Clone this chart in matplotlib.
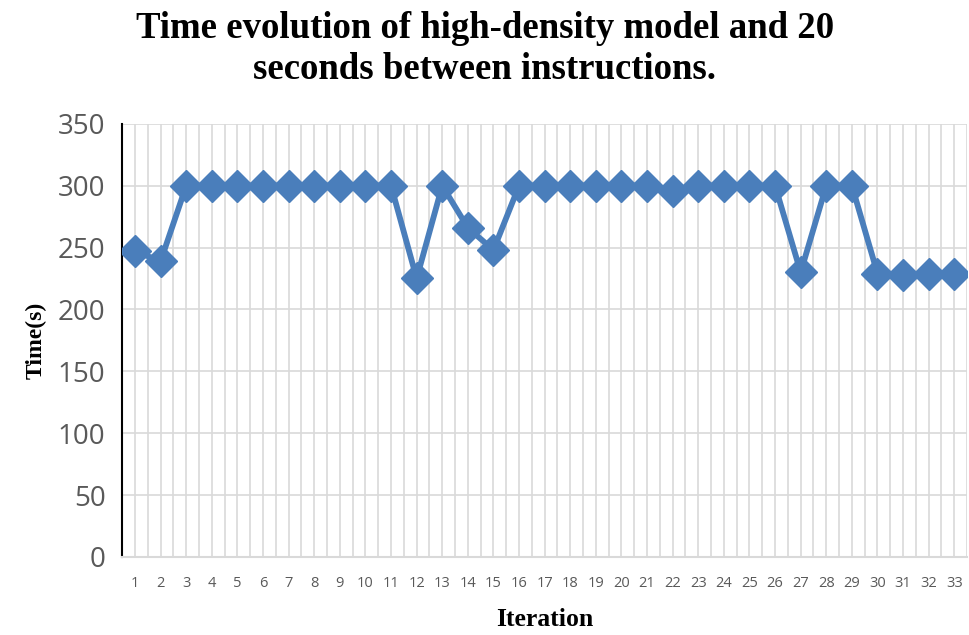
import matplotlib
matplotlib.use("Agg")
import matplotlib.pyplot as plt
import numpy as np

# iteration index and measured time per run
iterations = list(range(1, 34))
times = [247, 239, 300, 300, 300, 300, 300, 300, 300, 300,
         300, 225, 300, 266, 248, 300, 300, 300, 300, 300,
         300, 296, 300, 300, 300, 300, 230, 300, 300, 229,
         228, 229, 229]
y_ticks = [0, 50, 100, 150, 200, 250, 300, 350]

LINE_COLOR = '#4a7ebb'
GRID_COLOR = '#d9d9d9'
TICK_COLOR = '#595959'

fig = plt.figure(figsize=(9.7, 6.35), dpi=100)
ax = fig.add_axes([0.126, 0.123, 0.871, 0.682])

ax.plot(iterations, times, color=LINE_COLOR, linewidth=4.2,
        marker='D', markersize=16.5, markerfacecolor=LINE_COLOR,
        markeredgecolor=LINE_COLOR, zorder=3)

ax.set_xlim(0.5, len(iterations) + 0.5)
ax.set_ylim(0, 350)
ax.set_yticks(y_ticks)
ax.set_xticks(iterations)
ax.set_xticklabels([str(i) for i in iterations])

# gridlines at every category centre and boundary
for x in np.arange(1, len(iterations) + 0.6, 0.5):
    ax.axvline(x, color=GRID_COLOR, linewidth=1.2, zorder=0)
for y in y_ticks[1:]:
    ax.axhline(y, color=GRID_COLOR, linewidth=1.2, zorder=0)

for side in ['top', 'right']:
    ax.spines[side].set_visible(False)
ax.spines['left'].set_color('black')
ax.spines['left'].set_linewidth(1.5)
ax.spines['bottom'].set_color(GRID_COLOR)
ax.spines['bottom'].set_linewidth(1.5)

ax.tick_params(axis='y', length=0, labelsize=20, labelcolor=TICK_COLOR, pad=12)
ax.tick_params(axis='x', length=0, labelsize=10.5, labelcolor=TICK_COLOR, pad=14)
for lbl in ax.get_xticklabels() + ax.get_yticklabels():
    lbl.set_fontfamily('Open Sans')

ax.set_xlabel('Iteration', fontfamily='Liberation Serif', fontweight='bold',
              fontsize=18.5, labelpad=12)
ax.set_ylabel('Time(s)', fontfamily='Liberation Serif', fontweight='bold',
              fontsize=17, labelpad=8)

fig.text(0.5, 0.982, 'Time evolution of high-density model and 20\nseconds between instructions.',
         ha='center', va='top', fontfamily='Liberation Serif', fontweight='bold',
         fontsize=26.5, linespacing=1.2)

fig.savefig('out.png', dpi=100)
